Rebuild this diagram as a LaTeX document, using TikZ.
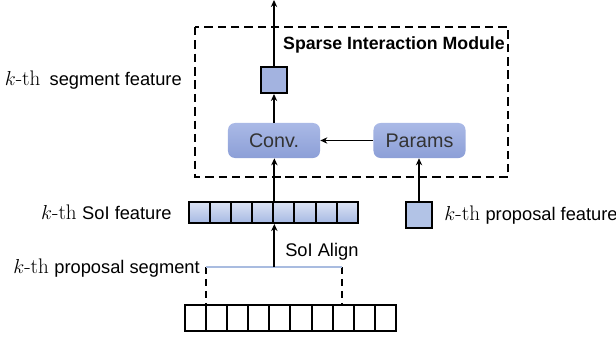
\documentclass[tikz,border=0pt]{standalone}
\usepackage{fontspec}
\setsansfont{Liberation Sans}
\usetikzlibrary{positioning, arrows.meta, calc}
\definecolor{convtop}{HTML}{AAB9E6}
\definecolor{convbot}{HTML}{8C9FD7}
\definecolor{soitop}{HTML}{DCE3F4}
\definecolor{soibot}{HTML}{A6B9E3}
\definecolor{featblue}{HTML}{B2C3E6}
\definecolor{outblue}{HTML}{A3B3E0}
\definecolor{segblue}{HTML}{A9BCE0}
\newcommand{\kthtext}{{\rmfamily\fontsize{15}{17}\selectfont$k$-th}\hspace{0.3em}}

\begin{document}
\begin{tikzpicture}[x=0.025cm, y=-0.025cm,
  lab/.style={font=\sffamily\fontsize{13}{15}\selectfont, inner sep=0pt},
  blockbox/.style={rounded corners=5pt, top color=convtop, bottom color=convbot,
    minimum width=2.3cm, minimum height=0.875cm, inner sep=0pt,
    font=\sffamily\fontsize{14}{16}\selectfont, text=black!80},
  cellbox/.style={draw, line width=1.4pt, minimum size=0.65cm, inner sep=0pt},
  soicell/.style={draw, line width=1.4pt, top color=soitop, bottom color=soibot,
    minimum width=0.5275cm, minimum height=0.525cm, inner sep=0pt},
  incell/.style={draw, line width=1.4pt, fill=white,
    minimum width=0.5275cm, minimum height=0.65cm, inner sep=0pt},
  arr/.style={-{Stealth[length=5pt, width=4.5pt]}, line width=1.3pt}]

  \useasboundingbox (0,0) rectangle (616,341);

  % module
  \draw [line width=1.3pt, dash pattern=on 6pt off 3.5pt] (195,27) rectangle (508,177);
  \node [lab, font=\sffamily\bfseries\fontsize{12.6}{15}\selectfont, anchor=east] (modtitle) at (505,45) {Sparse Interaction Module};

  \node [blockbox] (conv) at (274,140.5) {Conv.};
  \node [blockbox] (params) at (419.5,140.5) {Params};
  \node [cellbox, fill=outblue] (segfeat) at (274,80) {};
  \coordinate (out) at (274,0);

  % features
  \foreach \i in {0,...,7}
    \node [soicell] (soi\i) at (199.5+21.1*\i,212.5) {};
  \foreach \i in {0,...,9}
    \node [incell] (in\i) at (195.5+21.1*\i,318) {};
  \node [cellbox, fill=featblue] (propfeat) at (419,215) {};

  % proposal segment
  \coordinate (segl) at (206,267);
  \coordinate (segr) at (342,267);
  \draw [line width=1.3pt, dash pattern=on 5pt off 3.5pt] (segl) -- (segl |- in0.north);
  \draw [line width=1.3pt, dash pattern=on 5pt off 3.5pt] (segr) -- (segr |- in0.north);
  \draw [segblue, line width=1.6pt] (segl) -- (segr);

  % arrows
  \draw [arr] (soi3.south east |- segl) -- (soi3.south east);
  \draw [arr] (soi3.north east) -- (soi3.north east |- conv.south);
  \draw [arr] (propfeat.north) -- (propfeat.north |- params.south);
  \draw [arr] (params) -- (conv);
  \draw [arr] (conv) -- (segfeat);
  \draw [arr] (segfeat) -- (out);

  % labels
  \node [lab, anchor=east] (segfeatlab) at (182,80) {\kthtext\hspace{0.2em}segment feature};
  \node [lab, left=0.4cm of soi0] (soilab) {\kthtext SoI feature};
  \node [lab, anchor=east] (seglab) at (200,268) {\kthtext proposal segment};
  \node [lab, right=0.28cm of propfeat] (proplab) {\kthtext proposal feature};
  \node [lab, anchor=west] (alignlab) at (285,252) {SoI Align};
\end{tikzpicture}
\end{document}
